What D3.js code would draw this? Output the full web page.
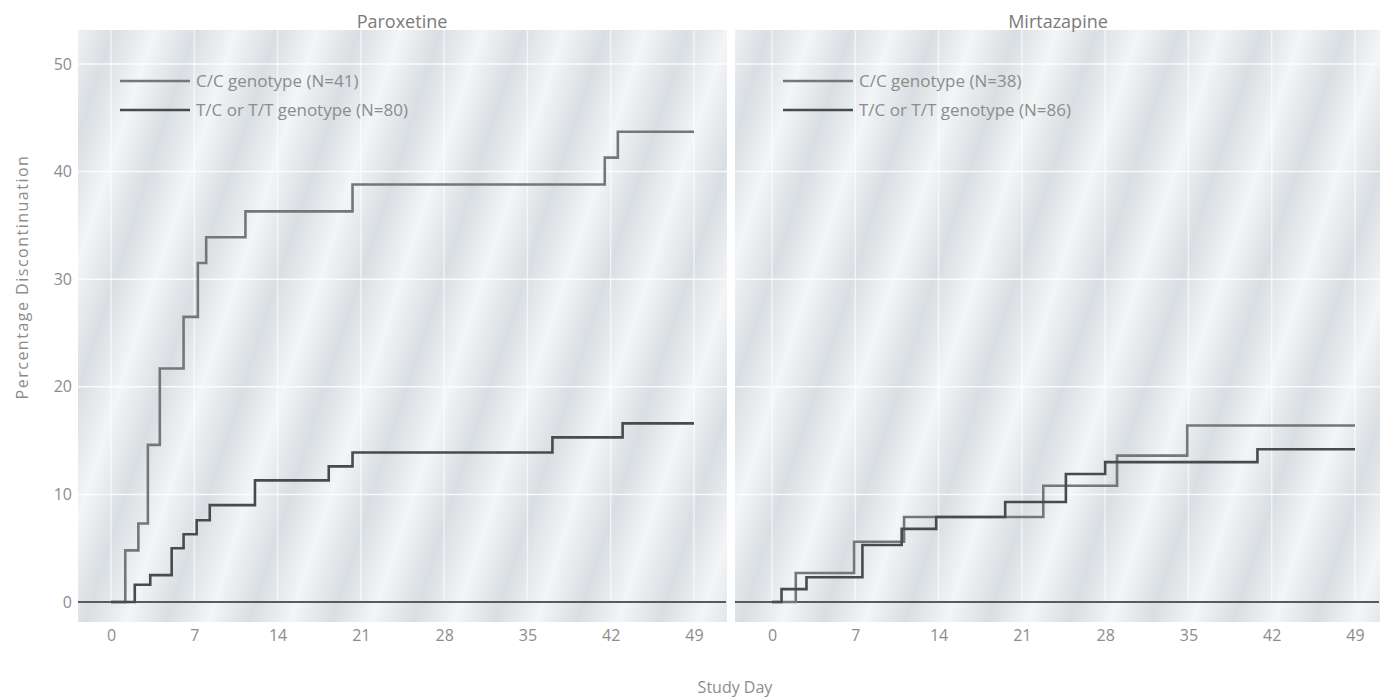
<!DOCTYPE html>
<html>
<head>
<meta charset="utf-8">
<script src="https://cdn.jsdelivr.net/npm/d3@7"></script>
<style>
  html, body { margin: 0; padding: 0; background: #ffffff; }
  svg { display: block; font-family: "Open Sans", "DejaVu Sans", sans-serif; }
</style>
</head>
<body>
<svg id="chart" width="1380" height="697"></svg>
<script>
// ---------------- DATA ----------------
const panelTitles = ["Paroxetine", "Mirtazapine"];
const xTickDays = [0, 7, 14, 21, 28, 35, 42, 49];
const yTickValues = [0, 10, 20, 30, 40, 50];
const legendParoxetine = ["C/C genotype (N=41)", "T/C or T/T genotype (N=80)"];
const legendMirtazapine = ["C/C genotype (N=38)", "T/C or T/T genotype (N=86)"];

// step points: [study day, cumulative % discontinued]
const paroxetineCC = [[0,0],[1.2,4.8],[2.3,7.3],[3.1,14.6],[4.1,21.7],[6.1,26.5],[7.3,31.5],[8.0,33.9],[11.3,36.3],[20.3,38.8],[41.5,41.3],[42.6,43.7],[49,43.7]];
const paroxetineTC = [[0,0],[2.0,1.6],[3.3,2.5],[5.1,5.0],[6.1,6.3],[7.2,7.6],[8.3,9.0],[12.1,11.3],[18.3,12.6],[20.3,13.9],[37.1,15.3],[43.0,16.6],[49,16.6]];
const mirtazapineCC = [[0,0],[2.0,2.7],[6.9,5.6],[11.1,7.9],[22.8,10.8],[29.0,13.6],[34.9,16.4],[49,16.4]];
const mirtazapineTC = [[0,0],[0.8,1.2],[2.9,2.3],[7.6,5.3],[10.9,6.8],[13.8,7.9],[19.6,9.3],[24.7,11.9],[28.0,13.0],[40.8,14.2],[49,14.2]];

// ---------------- LAYOUT ----------------
const svg = d3.select("#chart");
const colCC = "#767676", colTC = "#4a4a4a";
const textCol = "#8c8c8c";

const y = d3.scaleLinear().domain([0, 50]).range([602, 64]);

const panels = [
  { title: panelTitles[0], legend: legendParoxetine, cc: paroxetineCC, tc: paroxetineTC,
    x: d3.scaleLinear().domain([0, 49]).range([111, 694]),
    bg: [78, 727], titleX: 402, legX: 120 },
  { title: panelTitles[1], legend: legendMirtazapine, cc: mirtazapineCC, tc: mirtazapineTC,
    x: d3.scaleLinear().domain([0, 49]).range([772, 1355]),
    bg: [735, 1380], titleX: 1058, legX: 783 }
];

// background texture (soft diagonal banding like the scanned original)
const defs = svg.append("defs");
const grad = defs.append("linearGradient")
  .attr("id", "bands").attr("gradientUnits", "userSpaceOnUse")
  .attr("x1", 0).attr("y1", 0).attr("x2", 78).attr("y2", 0)
  .attr("spreadMethod", "repeat")
  .attr("gradientTransform", "rotate(18)");
grad.append("stop").attr("offset", 0).attr("stop-color", "#f3f5f7");
grad.append("stop").attr("offset", 0.5).attr("stop-color", "#d9dee2");
grad.append("stop").attr("offset", 1).attr("stop-color", "#f3f5f7");

panels.forEach(p => {
  const g = svg.append("g");
  g.append("rect")
    .attr("x", p.bg[0]).attr("y", 30)
    .attr("width", p.bg[1] - p.bg[0]).attr("height", 592)
    .attr("fill", "url(#bands)");

  // white gridlines
  g.append("g").selectAll("line.h").data(yTickValues.filter(v => v > 0)).join("line")
    .attr("x1", p.bg[0]).attr("x2", p.bg[1])
    .attr("y1", d => y(d)).attr("y2", d => y(d))
    .attr("stroke", "#ffffff").attr("stroke-width", 1.5).attr("opacity", 0.8);
  g.append("g").selectAll("line.v").data(xTickDays).join("line")
    .attr("x1", d => p.x(d)).attr("x2", d => p.x(d))
    .attr("y1", 30).attr("y2", 602)
    .attr("stroke", "#ffffff").attr("stroke-width", 1.5).attr("opacity", 0.6);

  // baseline (zero line)
  g.append("line")
    .attr("x1", p.bg[0]).attr("x2", p.bg[1] - 1)
    .attr("y1", y(0)).attr("y2", y(0))
    .attr("stroke", "#5a5a5a").attr("stroke-width", 2);

  // x axis labels
  const xAxis = d3.axisBottom(p.x).tickValues(xTickDays).tickSize(0).tickPadding(0);
  const ax = g.append("g").attr("transform", `translate(0, ${y(0) + 28})`).call(xAxis);
  ax.select(".domain").remove();
  ax.selectAll("text").attr("fill", textCol).attr("font-size", 16)
    .attr("font-family", "'Open Sans', sans-serif");

  // step lines
  const line = d3.line().x(d => p.x(d[0])).y(d => y(d[1])).curve(d3.curveStepAfter);
  g.append("path").datum(p.cc).attr("d", line)
    .attr("fill", "none").attr("stroke", colCC).attr("stroke-width", 2.6);
  g.append("path").datum(p.tc).attr("d", line)
    .attr("fill", "none").attr("stroke", colTC).attr("stroke-width", 2.6);

  // title
  g.append("text").attr("x", p.titleX).attr("y", 28)
    .attr("text-anchor", "middle").attr("font-size", 18).attr("fill", "#7a7a7a")
    .text(p.title);

  // legend
  const legRows = [{ t: p.legend[0], c: colCC, yy: 81 }, { t: p.legend[1], c: colTC, yy: 110 }];
  legRows.forEach(r => {
    g.append("line").attr("x1", p.legX).attr("x2", p.legX + 70)
      .attr("y1", r.yy).attr("y2", r.yy)
      .attr("stroke", r.c).attr("stroke-width", 2.6);
    g.append("text").attr("x", p.legX + 76).attr("y", r.yy + 6)
      .attr("font-size", 17).attr("fill", textCol).text(r.t);
  });
});

// y axis labels (shared, left)
const yAxis = d3.axisLeft(y).tickValues(yTickValues).tickSize(0).tickPadding(0);
const ay = svg.append("g").attr("transform", "translate(72,0)").call(yAxis);
ay.select(".domain").remove();
ay.selectAll("text").attr("fill", textCol).attr("font-size", 16)
  .attr("font-family", "'Open Sans', sans-serif");

// y axis title
svg.append("text")
  .attr("transform", "translate(28, 277) rotate(-90)")
  .attr("text-anchor", "middle").attr("font-size", 16).attr("fill", textCol)
  .attr("letter-spacing", 1.5)
  .text("Percentage Discontinuation");

// x axis title
svg.append("text").attr("x", 735).attr("y", 693)
  .attr("text-anchor", "middle").attr("font-size", 16).attr("fill", textCol)
  .text("Study Day");
</script>
</body>
</html>
